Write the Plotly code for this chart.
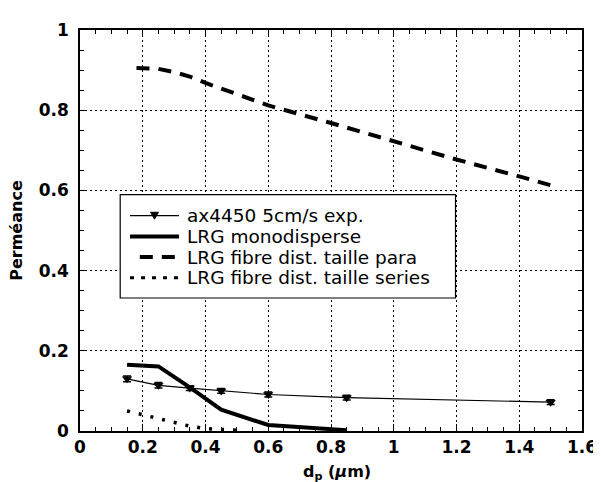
import plotly.graph_objects as go

# ---- data ----
dp_exp = [0.15, 0.25, 0.35, 0.45, 0.6, 0.85, 1.5]
perm_exp = [0.130, 0.114, 0.107, 0.100, 0.091, 0.083, 0.072]
err_exp = [0.007, 0.007, 0.006, 0.006, 0.006, 0.006, 0.006]

dp_mono = [0.15, 0.25, 0.35, 0.45, 0.6, 0.85]
perm_mono = [0.165, 0.161, 0.109, 0.053, 0.015, 0.002]

dp_para = [0.18, 0.25, 0.3, 0.35, 0.4, 0.6, 0.8, 1.0, 1.2, 1.4, 1.5]
perm_para = [0.905, 0.903, 0.895, 0.884, 0.868, 0.812, 0.768, 0.722, 0.677, 0.635, 0.613]

dp_series = [0.15, 0.2, 0.25, 0.3, 0.35, 0.4, 0.45, 0.5]
perm_series = [0.050, 0.041, 0.030, 0.021, 0.012, 0.006, 0.003, 0.002]

names = ["ax4450 5cm/s exp.", "LRG monodisperse",
         "LRG fibre dist. taille para", "LRG fibre dist. taille series"]

x_ticks = [0, 0.2, 0.4, 0.6, 0.8, 1, 1.2, 1.4, 1.6]
y_ticks = [0, 0.2, 0.4, 0.6, 0.8, 1]

W, H = 601, 482
L, R, T, B = 72, 17, 16, 59
ph = H - T - B
pw = W - L - R


def py(pix):
    return (H - B - pix) / ph


def px(pix):
    return (pix - L) / pw


fig = go.Figure()
fig.add_trace(go.Scatter(
    x=dp_exp, y=perm_exp, name=names[0], mode="lines+markers",
    line=dict(color="black", width=1.2),
    marker=dict(symbol="triangle-down", size=9, color="black"),
    error_y=dict(type="data", array=err_exp, color="black", thickness=1.5, width=4),
))
fig.add_trace(go.Scatter(
    x=dp_mono, y=perm_mono, name=names[1], mode="lines",
    line=dict(color="black", width=4),
))
fig.add_trace(go.Scatter(
    x=dp_para, y=perm_para, name=names[2], mode="lines",
    line=dict(color="black", width=4, dash="13px,9px"),
))
fig.add_trace(go.Scatter(
    x=dp_series, y=perm_series, name=names[3], mode="lines",
    line=dict(color="black", width=3.5, dash="3px,9px"),
))

tickfont = dict(family="DejaVu Sans", size=17, color="black", weight="bold")
axis_common = dict(
    showline=True, linecolor="black", linewidth=1.5, mirror="allticks",
    ticks="inside", ticklen=7, tickwidth=1.2, tickcolor="black",
    showgrid=True, gridcolor="black", gridwidth=1, griddash="2px,3px",
    zeroline=False, tickfont=tickfont,
    minor=dict(ticks="inside", ticklen=4, tickwidth=1, tickcolor="black",
               dtick=0.05, showgrid=False),
)

fig.update_xaxes(range=[0, 1.6], tickvals=x_ticks, ticklabelstandoff=0, **axis_common)
fig.update_yaxes(range=[0, 1], tickvals=y_ticks, ticklabelstandoff=6, **axis_common)

# ---- hand-drawn legend box (to match the compact row spacing) ----
lg_left, lg_top, lg_right, lg_bottom = 113, 183, 455, 288
rows = [204.5, 225.5, 246.5, 267.5]
s0, s1 = 123, 173
shapes = [
    dict(type="rect", xref="paper", yref="paper",
         x0=px(lg_left), x1=px(lg_right), y0=py(lg_bottom), y1=py(lg_top),
         line=dict(color="black", width=1.2), fillcolor="white", layer="above"),
    dict(type="line", xref="paper", yref="paper",
         x0=px(s0), x1=px(s1), y0=py(rows[0]), y1=py(rows[0]),
         line=dict(color="black", width=1.2), layer="above"),
    dict(type="path", xref="paper", yref="paper",
         path="M{},{} L{},{} L{},{} Z".format(
             px(144), py(rows[0] - 3.5), px(152), py(rows[0] - 3.5),
             px(148), py(rows[0] + 3.5)),
         line=dict(color="black", width=1), fillcolor="black", layer="above"),
    dict(type="line", xref="paper", yref="paper",
         x0=px(s0), x1=px(s1), y0=py(rows[1]), y1=py(rows[1]),
         line=dict(color="black", width=4), layer="above"),
    dict(type="line", xref="paper", yref="paper",
         x0=px(133), x1=px(s1), y0=py(rows[2]), y1=py(rows[2]),
         line=dict(color="black", width=4, dash="13px,9px"), layer="above"),
    dict(type="line", xref="paper", yref="paper",
         x0=px(s0), x1=px(s1), y0=py(rows[3]), y1=py(rows[3]),
         line=dict(color="black", width=3, dash="4px,7px"), layer="above"),
]

legend_font = dict(family="DejaVu Sans", size=18.5, color="black")
annotations = []
for name, r in zip(names, rows):
    annotations.append(dict(text=name, xref="paper", yref="paper",
                            x=px(179), y=py(r), xanchor="left", yanchor="middle",
                            showarrow=False, font=legend_font))

annotations += [
    dict(text="<b>Perméance</b>", xref="paper", yref="paper",
         x=px(7), y=0.5, textangle=-90, showarrow=False,
         font=dict(family="DejaVu Sans", size=16, color="black"),
         xanchor="center", yanchor="middle"),
    dict(text="<b>d<sub>p</sub> (<i>μ</i>m)</b>", xref="paper", yref="paper",
         x=px(334), y=py(465), showarrow=False,
         font=dict(family="DejaVu Sans", size=16, color="black"),
         xanchor="center", yanchor="middle"),
]

fig.update_layout(
    width=W, height=H,
    margin=dict(l=L, r=R, t=T, b=B),
    paper_bgcolor="white", plot_bgcolor="white",
    showlegend=False,
    shapes=shapes,
    annotations=annotations,
)

fig.write_html("out.html")
